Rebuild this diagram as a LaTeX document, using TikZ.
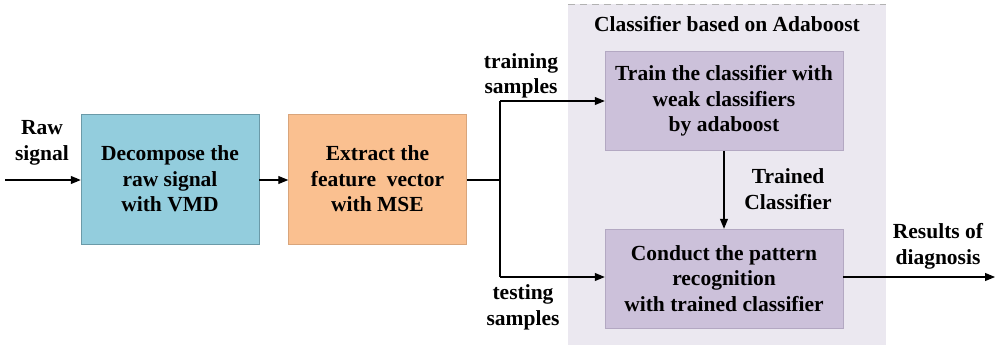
\documentclass[tikz,border=0pt]{standalone}
\usepackage{fontspec}
\setmainfont{Liberation Serif}[BoldFont={Liberation Serif Bold}]
\usetikzlibrary{arrows.meta,positioning}
\begin{document}
\begin{tikzpicture}[x=1pt,y=1pt,
  txt/.style={font=\bfseries\fontsize{21.5}{25.5}\selectfont, align=center, inner sep=0pt},
  blk/.style={txt, minimum width=178pt, minimum height=130pt},
  cls/.style={txt, minimum width=238pt, minimum height=99pt, fill=clsfill, draw=clsedge, line width=0.5pt},
  arr/.style={-{Triangle[length=10pt,width=8pt]}, line width=1.1pt},
  ln/.style={line width=1.1pt}]
\definecolor{vmdfill}{HTML}{93CDDD}
\definecolor{vmdedge}{HTML}{6B9AA8}
\definecolor{msefill}{HTML}{FAC090}
\definecolor{mseedge}{HTML}{D9A57B}
\definecolor{clsfill}{HTML}{CCC1DA}
\definecolor{clsedge}{HTML}{B3A8C2}
\definecolor{grpfill}{HTML}{EBE8F0}
\useasboundingbox (0,0) rectangle (1001,346);
% group background
\fill[grpfill] (568,1) rectangle (886,342);
\draw[gray!60, dash pattern=on 7pt off 5pt, line width=0.8pt] (568,342) -- (886,342);
\node[txt] (grp) at (727,322) {Classifier based on Adaboost};
% processing blocks
\node[blk, fill=vmdfill, draw=vmdedge, line width=0.5pt] (vmd) at (170,167) {Decompose the\\raw signal\\with VMD};
\node[blk, fill=msefill, draw=mseedge, line width=0.5pt] (mse) at (377.5,167) {Extract the\\feature\ \ vector\\with MSE};
\node[cls] (train) at (724,245) {Train the classifier with\\weak classifiers\\by adaboost};
\node[cls] (test) at (724,67.5) {Conduct the pattern\\recognition\\with trained classifier};
% input
\coordinate (in) at (5,166);
\node[txt] (raw) at (42,203) {Raw\\signal};
\draw[arr] (in) -- (vmd.west |- in);
\draw[arr] (vmd.east |- in) -- (mse.west |- in);
% branch to training and testing
\coordinate (split) at (500,166);
\coordinate (up) at (500,245);
\coordinate (down) at (500,69);
\draw[ln] (mse.east |- split) -- (split);
\draw[ln] (up) -- (down);
\draw[arr] (up) -- (train.west |- up);
\draw[arr] (down) -- (test.west |- down);
\node[txt] (trs) at (521,270) {training\\samples};
\node[txt] (tes) at (523,38.5) {testing\\samples};
% trained classifier
\draw[arr] (train.south) -- (test.north);
\node[txt] (tc) at (788,157) {Trained\\Classifier};
% output
\coordinate (out) at (995,69);
\draw[arr] (test.east |- out) -- (out);
\node[txt] (res) at (938,99.5) {Results of\\diagnosis};
\end{tikzpicture}
\end{document}
